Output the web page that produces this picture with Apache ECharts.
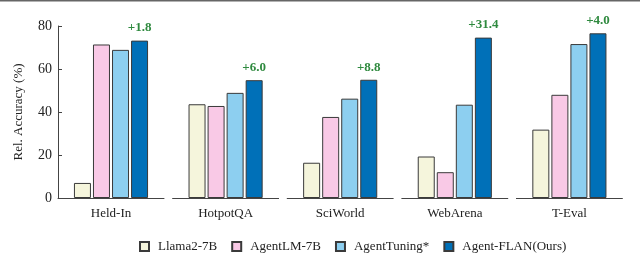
<!DOCTYPE html>
<html><head><meta charset="utf-8">
<script src="https://cdn.jsdelivr.net/npm/echarts@6/dist/echarts.min.js"></script>
<style>html,body{margin:0;padding:0;background:#fff}#c{width:640px;height:255px}</style>
</head><body><div id="c"></div>
<script>
const categories = ['Held-In', 'HotpotQA', 'SciWorld', 'WebArena', 'T-Eval'];
const seriesNames = ['Llama2-7B', 'AgentLM-7B', 'AgentTuning*', 'Agent-FLAN(Ours)'];
const llama = [7.0, 43.6, 16.4, 19.3, 31.8];
const agentlm = [71.4, 42.8, 37.7, 12.0, 48.0];
const agenttuning = [68.9, 48.9, 46.2, 43.4, 71.6];
const agentflan = [73.2, 54.8, 55.0, 74.6, 76.6];
const gains = ['+1.8', '+6.0', '+8.8', '+31.4', '+4.0'];
const yTicks = [0, 20, 40, 60, 80];

const values = [llama, agentlm, agenttuning, agentflan];
const colors = ['#f5f5dc', '#f9c9e6', '#8dcff0', '#0070b8'];
const font = 'Liberation Serif';

const grids = [], xAxes = [], yAxes = [], series = [];
categories.forEach((cat, i) => {
  grids.push({ left: 58 + i * 114.6, width: 106, top: 26, height: 172 });
  xAxes.push({
    type: 'category', gridIndex: i, data: [cat],
    axisLine: { lineStyle: { color: '#444', width: 1 } },
    axisTick: { show: false },
    axisLabel: { fontFamily: font, fontSize: 13, color: '#222', margin: 9 }
  });
  yAxes.push({
    type: 'value', gridIndex: i, min: 0, max: 80, interval: 20,
    show: i === 0,
    name: i === 0 ? 'Rel. Accuracy (%)' : '',
    nameLocation: 'middle', nameGap: 33,
    nameTextStyle: { fontFamily: font, fontSize: 13, color: '#222' },
    axisLine: { show: true, lineStyle: { color: '#444', width: 1 } },
    axisTick: { show: true, inside: true, length: 4, lineStyle: { color: '#444' } },
    axisLabel: { fontFamily: font, fontSize: 14, color: '#222', margin: 6,
      formatter: v => yTicks.includes(v) ? String(v) : '' },
    splitLine: { show: false }
  });
  seriesNames.forEach((name, s) => {
    const ser = {
      name, type: 'bar', xAxisIndex: i, yAxisIndex: i,
      data: [values[s][i]], barWidth: 17, barGap: '12%',
      itemStyle: { color: colors[s], borderColor: '#3a3a3a', borderWidth: 1 },
      animation: false
    };
    if (s === 3) {
      ser.label = { show: true, position: 'top', distance: 6,
        formatter: () => gains[i], fontFamily: font, fontSize: 13,
        fontWeight: 'bold', color: '#2f8a3f' };
    }
    series.push(ser);
  });
});

const chart = echarts.init(document.getElementById('c'), null, { renderer: 'canvas' });
chart.setOption({
  animation: false,
  grid: grids, xAxis: xAxes, yAxis: yAxes, series,
  legend: {
    data: seriesNames, left: 134, top: 235,
    icon: 'rect', itemWidth: 9, itemHeight: 9, itemGap: 14,
    textStyle: { fontFamily: font, fontSize: 13, color: '#222', padding: [0, 0, 0, 4] }
  },
  graphic: [{ type: 'rect', shape: { x: 0, y: 0, width: 640, height: 1.5 },
    style: { fill: '#666' } }]
});
</script></body></html>
